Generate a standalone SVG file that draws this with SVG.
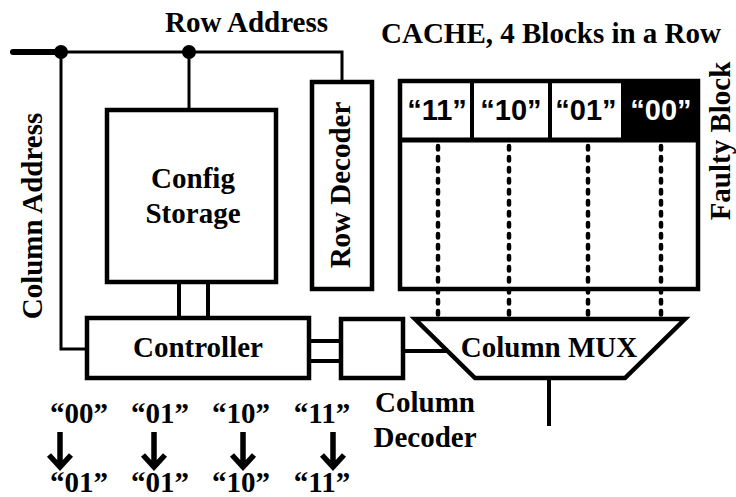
<svg xmlns="http://www.w3.org/2000/svg" width="736" height="497" viewBox="0 0 736 497">
<style>
.t{font-family:"Liberation Serif","Times New Roman",serif;font-weight:bold;font-size:29px;fill:#000}
.s{font-family:"Liberation Sans",Arial,sans-serif;font-weight:bold;font-size:29px;text-anchor:middle}
.box{fill:#fff;stroke:#000;stroke-width:4.5}
.w{fill:none;stroke:#000;stroke-width:3}
.w4{fill:none;stroke:#000;stroke-width:4}
.dash{fill:none;stroke:#000;stroke-width:4.5;stroke-dasharray:3.5 7.5;stroke-linecap:round}
.arr{fill:none;stroke:#000;stroke-width:5.5}
</style>
<rect width="736" height="497" fill="#fff"/>
<g id="labels">
  <text class="t" x="246.5" y="32" text-anchor="middle">Row Address</text>
  <text class="t" transform="translate(42,216) rotate(-90)" text-anchor="middle">Column Address</text>
  <text class="t" x="551" y="43" text-anchor="middle">CACHE, 4 Blocks in a Row</text>
  <text class="t" transform="translate(730,141) rotate(-90)" text-anchor="middle">Faulty Block</text>
</g>
<g id="config-storage">
  <rect class="box" x="107" y="110" width="169" height="172"/>
  <text class="t" x="193" y="188" text-anchor="middle">Config</text>
  <text class="t" x="193" y="223" text-anchor="middle">Storage</text>
</g>
<g id="row-decoder">
  <rect class="box" x="312" y="82" width="60" height="207"/>
  <text class="t" transform="translate(350,185) rotate(-90)" text-anchor="middle">Row Decoder</text>
</g>
<g id="controller">
  <rect class="box" x="87" y="318" width="222" height="60"/>
  <text class="t" x="198" y="357" text-anchor="middle">Controller</text>
</g>
<g id="column-decoder">
  <rect class="box" x="341" y="319" width="62" height="59"/>
  <text class="t" x="425" y="412" text-anchor="middle">Column</text>
  <text class="t" x="425" y="447" text-anchor="middle">Decoder</text>
</g>
<g id="column-mux">
  <polygon class="box" points="415,319 685,319 625,378 475,378"/>
  <text class="t" x="549" y="357" text-anchor="middle">Column MUX</text>
</g>
<g id="cache">
  <rect class="box" x="400" y="81" width="298" height="208"/>
  <rect x="623" y="81" width="75" height="58" fill="#000"/>
  <line class="w4" x1="472" y1="81" x2="472" y2="139"/>
  <line class="w4" x1="550" y1="81" x2="550" y2="139"/>
  <line class="w4" x1="623" y1="81" x2="623" y2="139"/>
  <line x1="400" y1="140" x2="698" y2="140" stroke="#000" stroke-width="5"/>
  <text class="s" x="437" y="120">“11”</text>
  <text class="s" x="511" y="120">“10”</text>
  <text class="s" x="586" y="120">“01”</text>
  <text class="s" x="661" y="120" fill="#fff">“00”</text>
</g>
<g id="mapping">
  <text class="t" x="79" y="423" text-anchor="middle">“00”</text>
  <text class="t" x="160" y="423" text-anchor="middle">“01”</text>
  <text class="t" x="241" y="423" text-anchor="middle">“10”</text>
  <text class="t" x="322" y="423" text-anchor="middle">“11”</text>
  <text class="t" x="79" y="492" text-anchor="middle">“01”</text>
  <text class="t" x="160" y="492" text-anchor="middle">“01”</text>
  <text class="t" x="241" y="492" text-anchor="middle">“10”</text>
  <text class="t" x="322" y="492" text-anchor="middle">“11”</text>
  <path class="arr" d="M60,432V466M49,455L60,467L71,455"/>
  <path class="arr" d="M154,432V466M143,455L154,467L165,455"/>
  <path class="arr" d="M243,432V466M232,455L243,467L254,455"/>
  <path class="arr" d="M333,432V466M322,455L333,467L344,455"/>
</g>
<g id="connectors">
  <line x1="13" y1="52" x2="61" y2="52" stroke="#000" stroke-width="6" stroke-linecap="round"/>
  <polyline class="w" points="61,52 342,52 342,80"/>
  <line class="w" x1="189" y1="52" x2="189" y2="108"/>
  <polyline class="w" points="61,52 61,349 85,349"/>
  <circle cx="61" cy="52" r="7"/>
  <circle cx="189" cy="52" r="7"/>
  <line class="w4" x1="179" y1="284" x2="179" y2="316"/>
  <line class="w4" x1="208" y1="284" x2="208" y2="316"/>
  <line class="w4" x1="311" y1="341" x2="339" y2="341"/>
  <line class="w4" x1="311" y1="361" x2="339" y2="361"/>
  <line class="w4" x1="405" y1="351" x2="446" y2="351"/>
  <line class="dash" x1="438" y1="146" x2="438" y2="316"/>
  <line class="dash" x1="509" y1="146" x2="509" y2="316"/>
  <line class="dash" x1="588" y1="146" x2="588" y2="316"/>
  <line class="dash" x1="661" y1="146" x2="661" y2="316"/>
  <line class="w4" x1="549" y1="380" x2="549" y2="426"/>
</g>
</svg>
